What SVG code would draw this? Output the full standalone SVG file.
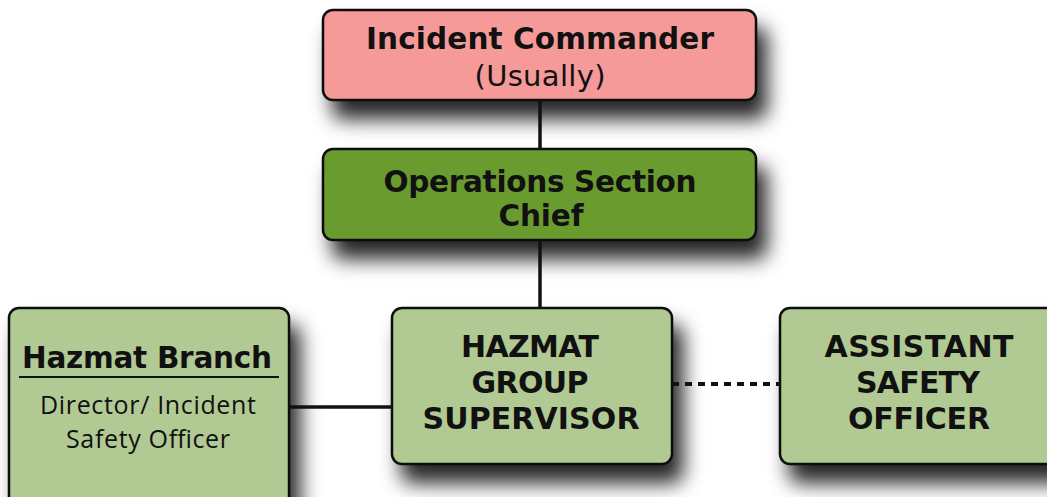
<svg xmlns="http://www.w3.org/2000/svg" width="1047" height="497" viewBox="0 0 1047 497">
<defs>
<filter id="sh" x="-20%" y="-30%" width="150%" height="190%">
<feDropShadow dx="10" dy="18" stdDeviation="10" flood-color="#000" flood-opacity="0.85"/>
</filter>
<style>
.box{stroke:#111;stroke-width:2.5}
.pink{fill:#f59a99}
.dark{fill:#6a9b2f}
.light{fill:#b1c993}
.b{font-family:"DejaVu Sans",Verdana,sans-serif;font-weight:bold;font-size:29.5px;fill:#111;text-anchor:middle}
.g{font-size:30px}
.n{font-family:"DejaVu Sans",Verdana,sans-serif;font-size:29px;fill:#111;text-anchor:middle}
.m{font-family:"Open Sans",sans-serif;font-size:25px;fill:#111;text-anchor:middle}
.line{stroke:#111;stroke-width:3.5;fill:none}
.dot{stroke:#111;stroke-width:4;fill:none;stroke-dasharray:7 6}
</style>
</defs>
<rect width="1047" height="497" fill="#fff"/>
<g id="incident-commander">
<rect class="box pink" x="323" y="10" width="433" height="90" rx="10" filter="url(#sh)"/>
<text class="b" x="540" y="49" textLength="348" lengthAdjust="spacing">Incident Commander</text>
<text class="n" x="540" y="86" textLength="131" lengthAdjust="spacing">(Usually)</text>
</g>
<g id="operations-section-chief">
<rect class="box dark" x="323" y="149" width="433" height="91" rx="10" filter="url(#sh)"/>
<text class="b" x="540" y="192" textLength="313" lengthAdjust="spacing">Operations Section</text>
<text class="b" x="541" y="226" textLength="85" lengthAdjust="spacing">Chief</text>
</g>
<g id="hazmat-branch">
<rect class="box light" x="9" y="308" width="280" height="220" rx="10" filter="url(#sh)"/>
<text class="b" x="147" y="368" textLength="250" lengthAdjust="spacing">Hazmat Branch</text>
<line x1="19" y1="377" x2="279" y2="377" stroke="#111" stroke-width="2"/>
<text class="m" x="148" y="414" textLength="216" lengthAdjust="spacing">Director/ Incident</text>
<text class="m" x="148" y="448" textLength="164" lengthAdjust="spacing">Safety Officer</text>
</g>
<g id="hazmat-group-supervisor">
<rect class="box light" x="392" y="308" width="280" height="156" rx="10" filter="url(#sh)"/>
<text class="b g" x="530" y="357" textLength="138" lengthAdjust="spacing">HAZMAT</text>
<text class="b g" x="530" y="393" textLength="117" lengthAdjust="spacing">GROUP</text>
<text class="b g" x="531" y="429" textLength="217" lengthAdjust="spacing">SUPERVISOR</text>
</g>
<g id="assistant-safety-officer">
<rect class="box light" x="780" y="308" width="290" height="156" rx="10" filter="url(#sh)"/>
<text class="b g" x="919" y="357" textLength="189" lengthAdjust="spacing">ASSISTANT</text>
<text class="b g" x="918" y="393" textLength="124" lengthAdjust="spacing">SAFETY</text>
<text class="b g" x="919" y="429" textLength="142" lengthAdjust="spacing">OFFICER</text>
</g>
<g id="connectors">
<line class="line" x1="540" y1="100" x2="540" y2="149"/>
<line class="line" x1="540" y1="240" x2="540" y2="308"/>
<line class="line" x1="289" y1="407" x2="392" y2="407"/>
<line class="dot" x1="672" y1="384" x2="780" y2="384"/>
</g>
</svg>
